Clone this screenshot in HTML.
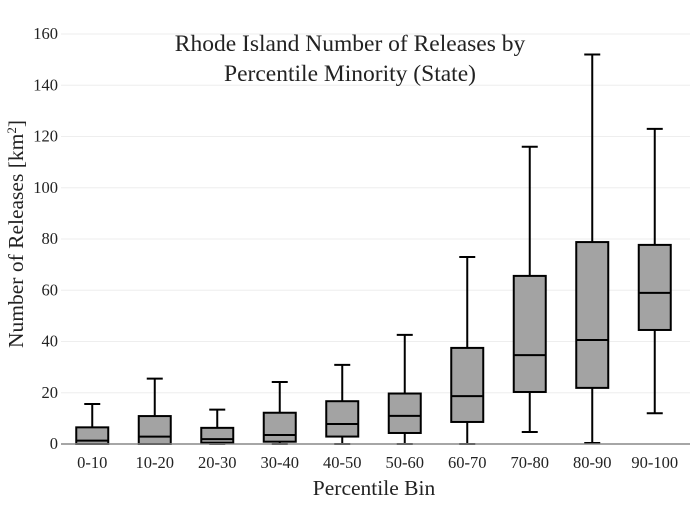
<!DOCTYPE html>
<html><head><meta charset="utf-8"><style>
body{margin:0;background:#fff}
svg text{font-family:"Liberation Serif",serif;fill:#222}
</style></head><body>
<svg id="chart" width="700" height="500" xmlns="http://www.w3.org/2000/svg">
<g id="grid"></g>
<g id="boxes"></g>
<g id="axes"></g>
<text x="350" y="51" text-anchor="middle" font-size="23.5">Rhode Island Number of Releases by</text>
<text x="350" y="81" text-anchor="middle" font-size="23.5">Percentile Minority (State)</text>
<text x="374" y="495" text-anchor="middle" font-size="21.5">Percentile Bin</text>
<text transform="translate(23,234) rotate(-90)" text-anchor="middle" font-size="21.5">Number of Releases  [km<tspan baseline-shift="super" font-size="13">2</tspan>]</text>
</svg>
<script>
const categories=["0-10","10-20","20-30","30-40","40-50","50-60","60-70","70-80","80-90","90-100"];
const mins=[0,0,0,0,0,0,0,4.7,0.4,12];
const q1s=[0,0,0.5,0.9,2.9,4.3,8.6,20.3,21.9,44.5];
const medians=[1.3,2.9,1.9,3.5,7.8,11,18.7,34.7,40.6,59];
const q3s=[6.5,10.9,6.3,12.2,16.7,19.7,37.5,65.6,78.8,77.7];
const maxs=[15.6,25.5,13.4,24.2,30.9,42.6,73,116,152,123];
const yTicks=[0,20,40,60,80,100,120,140,160];
const NS="http://www.w3.org/2000/svg";
const x0=61,x1=686,y0=444,y1=34,ymax=160;
const band=(x1-x0)/categories.length;
const xc=i=>x0+band*(i+0.5);
const y=v=>y0-(v/ymax)*(y0-y1);
function mk(tag,attrs,parent){const e=document.createElementNS(NS,tag);for(const k in attrs)e.setAttribute(k,attrs[k]);parent.appendChild(e);return e;}
const grid=document.getElementById('grid'),axes=document.getElementById('axes'),boxes=document.getElementById('boxes');
yTicks.forEach(t=>{
 if(t>0){const l=mk('line',{x1:x0,x2:x1+4,y1:y(t),y2:y(t),stroke:'#eee','stroke-width':1},grid);
 
 }
 const tx=mk('text',{x:58,y:y(t)+5,'text-anchor':'end','font-size':16.5},axes);
 tx.textContent=t;
 
 
});
const ax=mk('line',{x1:x0,x2:x1+4,y1:y0,y2:y0,stroke:'#888','stroke-width':1.5},axes);


const hw=16;
categories.forEach((c,i)=>{
 const cx=xc(i);
 const g=mk('g',{},boxes);
 
 
 const st={stroke:'#000','stroke-width':2};
 mk('line',Object.assign({x1:cx,x2:cx,y1:y(maxs[i]),y2:y(q3s[i])},st),g);
 mk('line',Object.assign({x1:cx,x2:cx,y1:y(q1s[i]),y2:y(mins[i])},st),g);
 mk('line',Object.assign({x1:cx-8,x2:cx+8,y1:y(maxs[i]),y2:y(maxs[i])},st),g);
 mk('line',Object.assign({x1:cx-8,x2:cx+8,y1:y(mins[i]),y2:y(mins[i])},st),g);
 mk('rect',Object.assign({x:cx-hw,width:2*hw,y:y(q3s[i]),height:Math.max(0,y(q1s[i])-y(q3s[i])),fill:'#a3a3a3'},st),g);
 mk('line',Object.assign({x1:cx-hw,x2:cx+hw,y1:y(medians[i]),y2:y(medians[i])},st),g);
 const tx=mk('text',{x:cx,y:468,'text-anchor':'middle','font-size':16.5},axes);
 tx.textContent=c;
 
 
});
</script>
</body></html>
